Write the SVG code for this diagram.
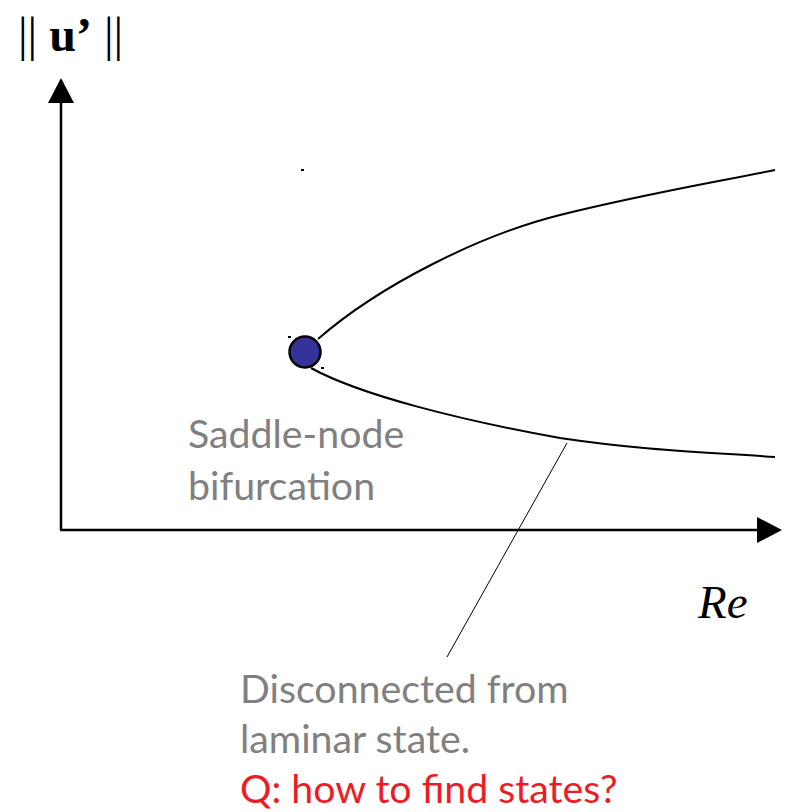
<svg xmlns="http://www.w3.org/2000/svg" width="786" height="812" viewBox="0 0 786 812">
<style>
.ax{stroke:#000;stroke-width:2.5;fill:none}
.cv{stroke:#000;stroke-width:2;fill:none}
.g{font-family:Lato,"Open Sans",sans-serif;font-size:39.3px;fill:#808080}
.r{font-family:Lato,"Open Sans",sans-serif;font-size:39.3px;fill:#ed1c24}
.s{font-family:"Liberation Serif",serif;fill:#000}
</style>
<rect width="786" height="812" fill="#fff"/>
<g id="axes">
<path class="ax" d="M61,530 L61,103"/>
<path d="M48,103 L61,78 L74,103 Z" fill="#000"/>
<path class="ax" d="M60,530 L758,530"/>
<path d="M757,517 L782,530 L757,543 Z" fill="#000"/>
</g>
<g id="ylabel"><text class="s" x="18" y="51" font-size="48">|| <tspan font-weight="bold">u’</tspan> ||</text></g>
<g id="xlabel"><text class="s" x="698" y="618" font-size="47" font-style="italic">Re</text></g>
<g id="connectors">
<path class="cv" d="M318,339 C380,285 480,235 560,215 C640,195 700,185 775,170"/>
<path class="cv" d="M311,368 C360,395 460,420 560,438 C640,450 700,452 775,457"/>
<path stroke="#000" stroke-width="1" fill="none" d="M567,443 L447,657"/>
</g>
<g id="node">
<circle cx="305" cy="352" r="15.5" fill="#333399" stroke="#000" stroke-width="2.5"/>
<rect x="288" y="336" width="3" height="2" fill="#000"/>
<rect x="321" y="367" width="3" height="2" fill="#000"/>
<rect x="301" y="169" width="3" height="2" fill="#000"/>
</g>
<g id="label1">
<text class="g" x="188" y="448">Saddle-node</text>
<text class="g" x="188" y="500">bifurcation</text>
</g>
<g id="label2">
<text class="g" x="240" y="703">Disconnected from</text>
<text class="g" x="240" y="753">laminar state.</text>
<text class="r" x="240" y="803">Q: how to find states?</text>
</g>
</svg>
